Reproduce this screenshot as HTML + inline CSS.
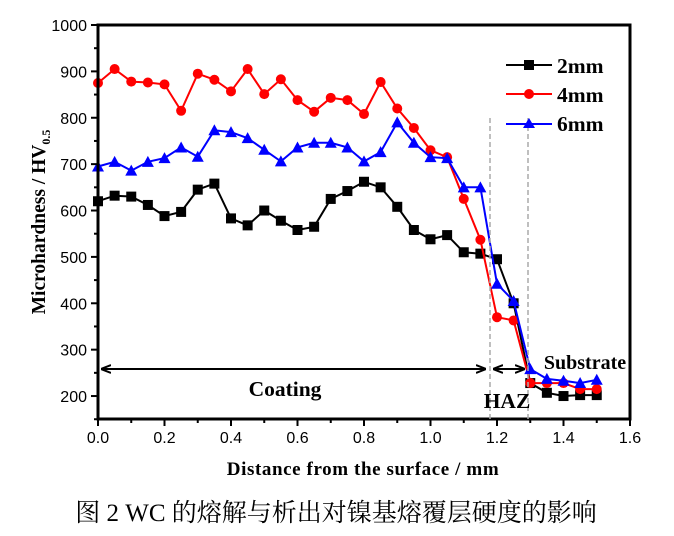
<!DOCTYPE html>
<html><head><meta charset="utf-8"><style>
html,body{margin:0;padding:0;background:#fff;width:674px;height:536px;overflow:hidden}
svg{display:block}
</style></head><body>
<svg width="674" height="536" xmlns="http://www.w3.org/2000/svg">
<defs>
<marker id="ah" markerWidth="10" markerHeight="10" refX="9" refY="5" orient="auto-start-reverse" markerUnits="userSpaceOnUse"><path d="M0,1 L10,5 L0,9" fill="none" stroke="#000" stroke-width="2"/></marker>
</defs>
<g id="plot"></g>
<rect x="98" y="25" width="532" height="394" fill="none" stroke="#000" stroke-width="3"/>
<g font-family="Liberation Sans, sans-serif" font-size="16" fill="#000" text-anchor="end" id="yt"></g>
<g font-family="Liberation Sans, sans-serif" font-size="16" fill="#000" text-anchor="middle" id="xt"></g>
<text transform="translate(45,222) rotate(-90)" text-anchor="middle" font-family="Liberation Serif, serif" font-weight="bold" font-size="19.5">Microhardness / HV<tspan font-size="12" dy="5">0.5</tspan></text>
<text x="363" y="475" text-anchor="middle" font-family="Liberation Serif, serif" font-weight="bold" font-size="19" letter-spacing="0.6">Distance from the surface / mm</text>
<line x1="490" y1="118" x2="490" y2="419" stroke="#aaa" stroke-width="1.5" stroke-dasharray="5,3"/>
<line x1="528" y1="118" x2="528" y2="419" stroke="#aaa" stroke-width="1.5" stroke-dasharray="5,3"/>
<line x1="102" y1="369" x2="485" y2="369" stroke="#000" stroke-width="2" marker-start="url(#ah)" marker-end="url(#ah)"/>
<line x1="494" y1="369" x2="524" y2="369" stroke="#000" stroke-width="2" marker-start="url(#ah)" marker-end="url(#ah)"/>
<g font-family="Liberation Serif, serif" font-weight="bold" font-size="21.5">
<text x="285" y="396" text-anchor="middle">Coating</text>
<text x="507" y="408" text-anchor="middle">HAZ</text>
<text x="585" y="369" text-anchor="middle" font-size="20">Substrate</text>
<text x="557" y="73">2mm</text>
<text x="557" y="102">4mm</text>
<text x="557" y="131">6mm</text>
</g>
<line x1="506" y1="65" x2="552" y2="65" stroke="#000" stroke-width="2"/><rect x="524" y="60" width="10" height="10" fill="#000"/>
<line x1="506" y1="94" x2="552" y2="94" stroke="red" stroke-width="2"/><circle cx="529" cy="94" r="5" fill="red"/>
<line x1="506" y1="124" x2="552" y2="124" stroke="blue" stroke-width="2"/><path d="M529,118 L535,128 L523,128Z" fill="blue"/>
<text x="336" y="521" text-anchor="middle" font-family="Liberation Serif, 'Noto Serif CJK SC', serif" font-size="25">图 2 WC 的熔解与析出对镍基熔覆层硬度的影响</text>
</svg>
<script>
var X=function(v){return 98+v*332.5},Y=function(v){return 25+(1000-v)*0.4638};
var b=[620,632,630,612,588,597,645,658,583,568,600,578,558,565,625,642,662,650,608,558,538,547,510,507,495,400,228,207,200,202,202];
var r=[875,905,878,876,872,815,895,882,857,905,851,883,838,813,843,838,808,877,820,778,730,715,625,537,370,363,228,228,228,215,215];
var bl=[695,705,686,705,713,736,716,773,769,756,731,706,736,746,746,736,706,726,790,746,715,713,650,650,442,405,258,237,233,228,235];
var ns="http://www.w3.org/2000/svg",g=document.getElementById('plot');
function el(t,a){var e=document.createElementNS(ns,t);for(var k in a)e.setAttribute(k,a[k]);g.appendChild(e);return e}
function ser(d,c,m){var p=d.map(function(v,i){return X(i*0.05).toFixed(1)+','+Y(v).toFixed(1)}).join(' ');
el('polyline',{points:p,fill:'none',stroke:c,'stroke-width':2});
d.forEach(function(v,i){var x=X(i*0.05),y=Y(v);
if(m=='s')el('rect',{x:x-5,y:y-5,width:10,height:10,fill:c});
else if(m=='c')el('circle',{cx:x,cy:y,r:5,fill:c});
else el('path',{d:'M'+x+','+(y-6)+' L'+(x+6)+','+(y+5)+' L'+(x-6)+','+(y+5)+'Z',fill:c});});}
ser(b,'#000','s');ser(r,'red','c');ser(bl,'blue','t');
var yt=document.getElementById('yt'),xt=document.getElementById('xt');
for(var v=150;v<=1000;v+=50){var y=Y(v),maj=v%100==0;el('line',{x1:98-(maj?7:4),y1:y,x2:98,y2:y,stroke:'#000','stroke-width':2});
if(maj&&v>=200){var t=document.createElementNS(ns,'text');t.setAttribute('x',87);t.setAttribute('y',y+6);t.textContent=v;yt.appendChild(t);}}
for(var i=0;i<=16;i++){var x=X(i*0.1),maj=i%2==0;el('line',{x1:x,y1:419,x2:x,y2:419+(maj?7:4),stroke:'#000','stroke-width':2});
if(maj){var t=document.createElementNS(ns,'text');t.setAttribute('x',x);t.setAttribute('y',443);t.textContent=(i/10).toFixed(1);xt.appendChild(t);}}
</script>
</body></html>
